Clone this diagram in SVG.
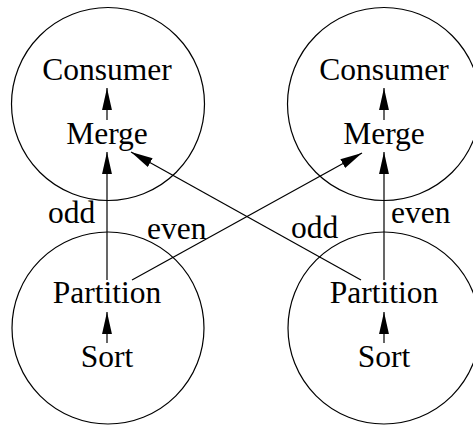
<svg xmlns="http://www.w3.org/2000/svg" width="473" height="426" viewBox="0 0 473 426">
<style>
.c{fill:none;stroke:#000;stroke-width:1.2}
.t{font-family:"Liberation Serif","Times New Roman",serif;font-size:31.5px;fill:#000}
.m{text-anchor:middle}
.e{stroke:#000;stroke-width:1.2;fill:none;marker-end:url(#ah)}
</style>
<defs>
<marker id="ah" markerUnits="userSpaceOnUse" markerWidth="22" markerHeight="12" viewBox="0 0 20 10" refX="20" refY="5" orient="auto">
<path d="M0,0.5 L20,5 L0,9.5 Z" fill="#000"/>
</marker>
</defs>
<rect width="473" height="426" fill="#fff"/>
<g id="node-tl">
<circle class="c" cx="108" cy="104" r="96.5"/>
<text class="t m" x="107" y="80">Consumer</text>
<text class="t m" x="107" y="144">Merge</text>
</g>
<g id="node-tr">
<circle class="c" cx="384" cy="104" r="96.5"/>
<text class="t m" x="384" y="80">Consumer</text>
<text class="t m" x="384" y="144">Merge</text>
</g>
<g id="node-bl">
<circle class="c" cx="108" cy="328" r="96"/>
<text class="t m" x="107" y="303">Partition</text>
<text class="t m" x="107" y="367">Sort</text>
</g>
<g id="node-br">
<circle class="c" cx="384" cy="328" r="96"/>
<text class="t m" x="384" y="303">Partition</text>
<text class="t m" x="384" y="367">Sort</text>
</g>
<g id="connectors">
<line class="e" x1="107" y1="120" x2="107" y2="88"/>
<line class="e" x1="384" y1="120" x2="384" y2="88"/>
<line class="e" x1="107" y1="343" x2="107" y2="312"/>
<line class="e" x1="384" y1="343" x2="384" y2="312"/>
<line class="e" x1="107" y1="280" x2="107" y2="152"/>
<line class="e" x1="384" y1="280" x2="384" y2="152"/>
<line class="e" x1="132" y1="280" x2="362" y2="153"/>
<line class="e" x1="361" y1="280" x2="131" y2="152"/>
<text class="t" x="48" y="223">odd</text>
<text class="t" x="147" y="239">even</text>
<text class="t" x="291" y="238">odd</text>
<text class="t" x="391" y="223">even</text>
</g>
</svg>
